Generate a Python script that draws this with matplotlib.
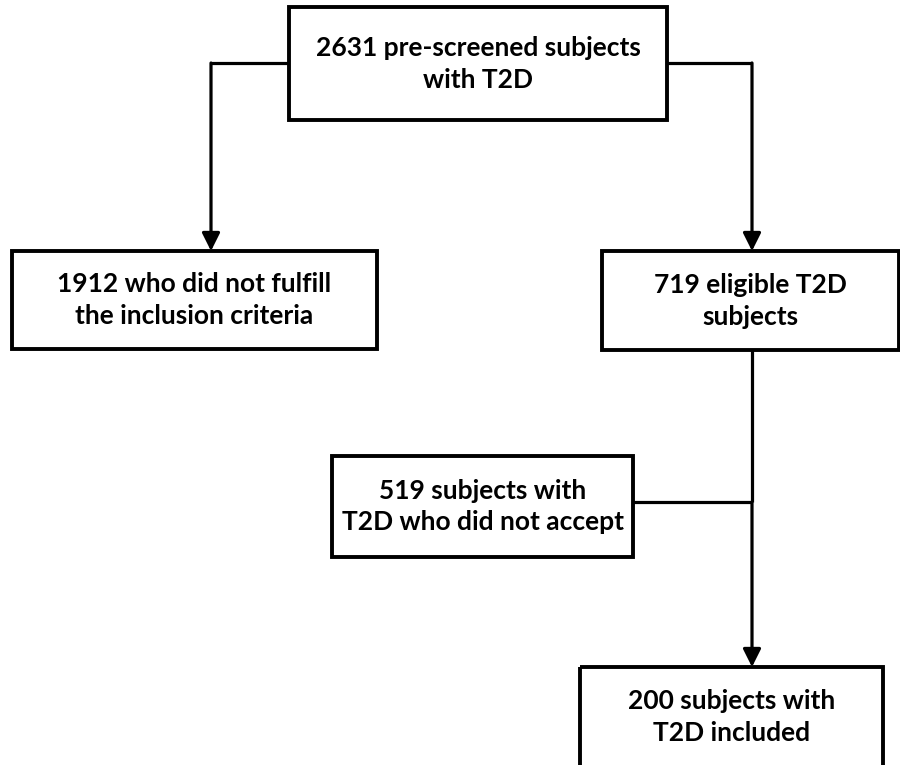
import matplotlib.pyplot as plt
from matplotlib.patches import Rectangle

# counts of the flow chart
n_screened = 2631
n_excluded = 1912
n_eligible = 719
n_declined = 519
n_included = 200

labels = {
    'top':    f'{n_screened} pre-screened subjects\nwith T2D',
    'left':   f'{n_excluded} who did not fulfill\nthe inclusion criteria',
    'right':  f'{n_eligible} eligible T2D\nsubjects',
    'mid':    f'{n_declined} subjects with\nT2D who did not accept',
    'bottom': f'{n_included} subjects with\nT2D included',
}

# box layout in pixels (x0, y0, x1, y1), y from top
boxes = {
    'top':    (289, 7, 667, 120),
    'left':   (12, 251, 377, 349),
    'right':  (602, 251, 899, 350),
    'mid':    (332, 456, 633, 557),
    'bottom': (580, 667, 883, 800),
}
text_y = {'bottom': 717}

plt.rcParams['font.family'] = ['Lato', 'DejaVu Sans']

fig = plt.figure(figsize=(9, 7.65), dpi=100)
ax = fig.add_axes([0, 0, 1, 1])
ax.set_xlim(0, 900)
ax.set_ylim(765, 0)
ax.axis('off')

lw = 2.3
for k, (x0, y0, x1, y1) in boxes.items():
    ax.add_patch(Rectangle((x0, y0), x1 - x0, y1 - y0, fill=False,
                           edgecolor='black', linewidth=2.8, zorder=3))
    ty = text_y.get(k, (y0 + y1) / 2)
    ax.text((x0 + x1) / 2, ty, labels[k], ha='center', va='center',
            fontsize=19, fontweight='bold', linespacing=1.4, zorder=4)

def arrow(pts):
    xs = [p[0] for p in pts]
    ys = [p[1] for p in pts]
    ax.plot(xs[:-1], ys[:-1], color='black', lw=lw, solid_capstyle='butt',
            solid_joinstyle='miter')
    ax.annotate('', xy=pts[-1], xytext=pts[-2],
                arrowprops=dict(arrowstyle='-|>,head_length=0.9,head_width=0.45',
                                color='black', lw=lw, shrinkA=0, shrinkB=0,
                                mutation_scale=12))

arrow([(289, 63), (211, 63), (211, 251)])
arrow([(667, 63), (752, 63), (752, 251)])
arrow([(752, 350), (752, 502), (752, 667)])
ax.plot([633, 752], [502, 502], color='black', lw=lw, solid_capstyle='butt')

fig.savefig('out.png', dpi=100)
